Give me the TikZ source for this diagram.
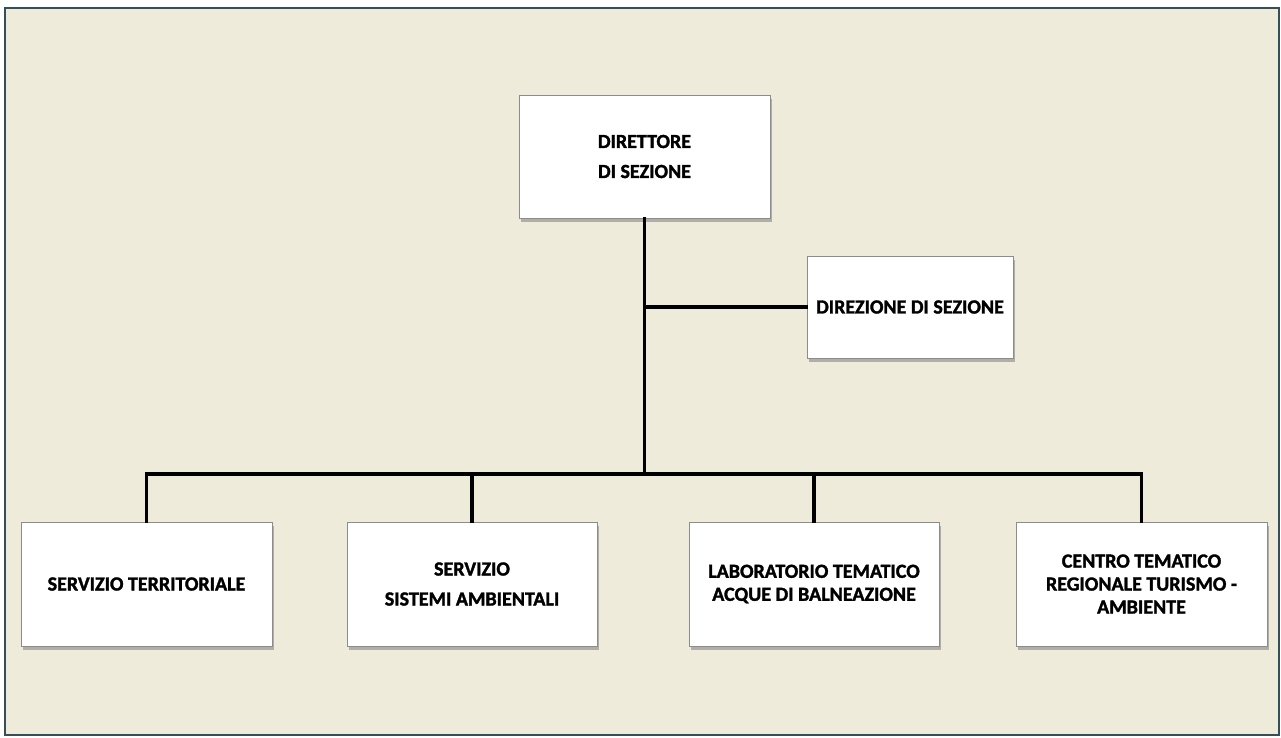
\documentclass[tikz,border=0pt]{standalone}
\usepackage{fontspec}
\setmainfont{Carlito}
\newfontfamily\orgfont{Carlito}[BoldFeatures={FakeBold=1.6}]
\usetikzlibrary{shadows}
\definecolor{bgbeige}{RGB}{239,235,218}
\definecolor{frameblue}{RGB}{52,78,92}
\definecolor{boxgray}{RGB}{140,140,140}
\tikzset{
  orgbox/.style={draw=boxgray, line width=1pt, fill=white, align=center,
    font=\orgfont\fontsize{20}{23}\selectfont\bfseries, inner sep=4pt,
    drop shadow={shadow xshift=2pt, shadow yshift=-3.5pt, opacity=0.45, fill=black!60}},
  link/.style={draw=black, line width=3.6pt, line cap=rect}
}
\begin{document}
\begin{tikzpicture}[x=1pt,y=-1pt]
\useasboundingbox (0,0) rectangle (1281,737);
\fill[white] (0,0) rectangle (1281,737);
\draw[frameblue, line width=2pt, fill=bgbeige] (5,8) rectangle (1279,735);

\node[orgbox, minimum width=251pt, minimum height=123pt] (top) at (644.5,156.5) {DIRETTORE\\[7pt]DI SEZIONE};
\node[orgbox, minimum width=206pt, minimum height=102pt] (dir) at (910,307) {DIREZIONE DI SEZIONE};
\node[orgbox, minimum width=251pt, minimum height=124pt] (b1) at (146.5,584) {SERVIZIO TERRITORIALE};
\node[orgbox, minimum width=250pt, minimum height=124pt] (b2) at (472,584) {SERVIZIO\\[7pt]SISTEMI AMBIENTALI};
\node[orgbox, minimum width=250pt, minimum height=124pt] (b3) at (814,584) {LABORATORIO TEMATICO\\ACQUE DI BALNEAZIONE};
\node[orgbox, minimum width=251pt, minimum height=124pt] (b4) at (1141.5,584) {CENTRO TEMATICO\\REGIONALE TURISMO -\\AMBIENTE};
\coordinate (j) at (top.south |- 0,474);

\draw[link] (top.south) -- (j);
\draw[link] (top.south |- dir.west) -- (dir.west);
\draw[link] (b1.north) -- (b1.north |- j) -- (b4.north |- j) -- (b4.north);
\draw[link] (b2.north) -- (b2.north |- j);
\draw[link] (b3.north) -- (b3.north |- j);
\end{tikzpicture}
\end{document}
